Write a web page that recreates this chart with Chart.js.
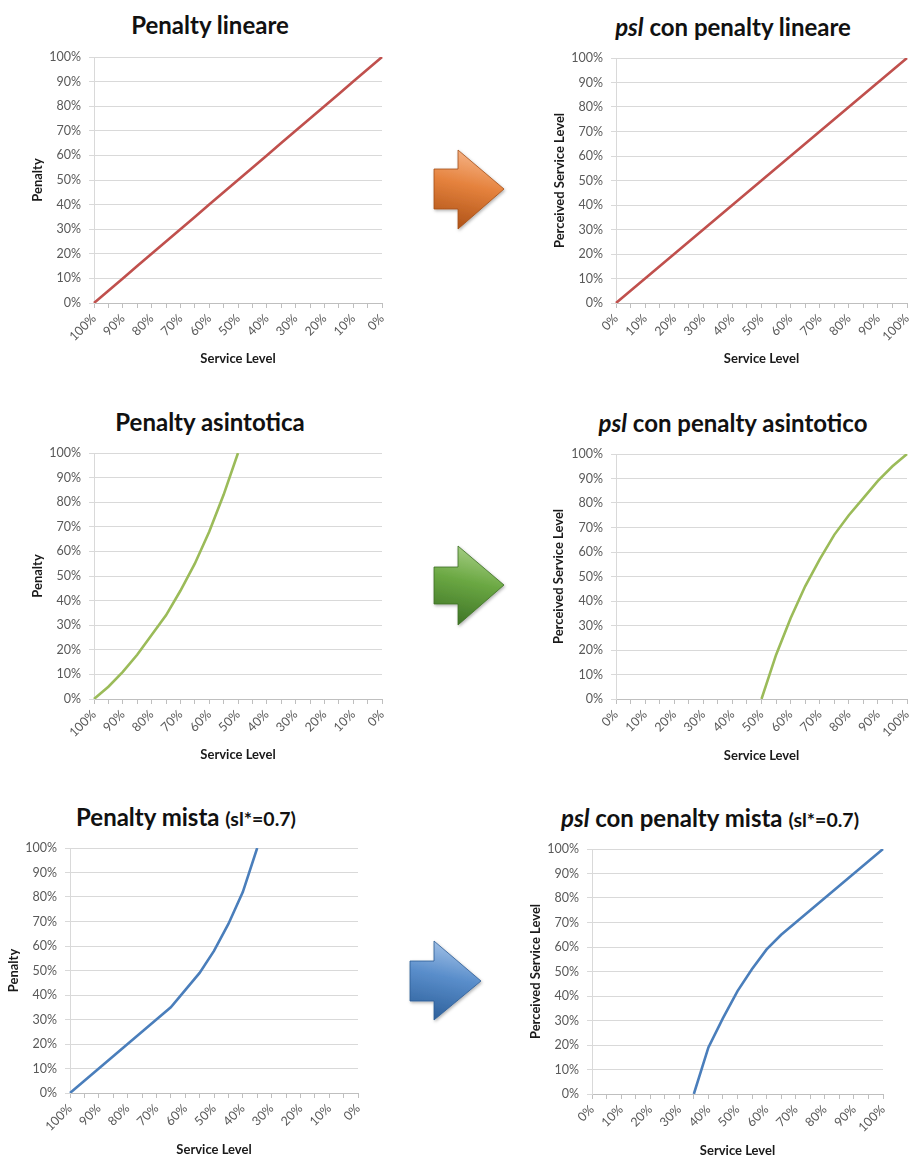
<!DOCTYPE html>
<html>
<head>
<meta charset="utf-8">
<script src="https://cdn.jsdelivr.net/npm/chart.js@4.4.1/dist/chart.umd.min.js"></script>
<style>
  html, body { margin: 0; padding: 0; background: #fff; }
  body { width: 910px; height: 1158px; position: relative; overflow: hidden; font-family: Lato, "Open Sans", sans-serif; }
  canvas { position: absolute; }
  .title { position: absolute; transform: translate(-50%, -50%); white-space: nowrap; font-weight: bold; font-size: 24px; line-height: 1; color: #111; }
  .title .sub { font-size: 19.5px; }
  svg.arrows { position: absolute; left: 0; top: 0; }
</style>
</head>
<body>

<svg class="arrows" width="910" height="1158">
  <defs>
    <linearGradient id="gOrange" x1="0.6" y1="0" x2="0.4" y2="1">
      <stop offset="0" stop-color="#F7B78C"/>
      <stop offset="0.45" stop-color="#E5823D"/>
      <stop offset="1" stop-color="#AF5318"/>
    </linearGradient>
    <linearGradient id="gGreen" x1="0.6" y1="0" x2="0.4" y2="1">
      <stop offset="0" stop-color="#A9D088"/>
      <stop offset="0.45" stop-color="#6BA843"/>
      <stop offset="1" stop-color="#3F7527"/>
    </linearGradient>
    <linearGradient id="gBlue" x1="0.6" y1="0" x2="0.4" y2="1">
      <stop offset="0" stop-color="#A6C4E8"/>
      <stop offset="0.45" stop-color="#5A8ECB"/>
      <stop offset="1" stop-color="#2E619C"/>
    </linearGradient>
    <filter id="shadow" x="-20%" y="-20%" width="140%" height="140%">
      <feDropShadow dx="1" dy="1.5" stdDeviation="1.5" flood-color="#000" flood-opacity="0.3"/>
    </filter>
  </defs>
  <polygon points="434,169 458,169 458,150 504,189 458,229 458,209 434,209" fill="url(#gOrange)" stroke="#A34E17" stroke-width="0.8" filter="url(#shadow)"/>
  <polygon points="434,567 458,567 458,546 504,585 458,625 458,604 434,604" fill="url(#gGreen)" stroke="#3C6F25" stroke-width="0.8" filter="url(#shadow)"/>
  <polygon points="410,961 434,961 434,941 481,981 434,1020 434,1001 410,1001" fill="url(#gBlue)" stroke="#2C5C94" stroke-width="0.8" filter="url(#shadow)"/>
</svg>

<div class="title" style="left:210px; top:25px;">Penalty lineare</div>
<div class="title" style="left:733px; top:27px;"><i>psl</i> con penalty lineare</div>
<div class="title" style="left:210px; top:422px;">Penalty asintotica</div>
<div class="title" style="left:733px; top:423px;"><i>psl</i> con penalty asintotico</div>
<div class="title" style="left:186px; top:817px;">Penalty mista <span class="sub">(sl*=0.7)</span></div>
<div class="title" style="left:710px; top:818px;"><i>psl</i> con penalty mista <span class="sub">(sl*=0.7)</span></div>

<canvas id="c1"></canvas>
<canvas id="c2"></canvas>
<canvas id="c3"></canvas>
<canvas id="c4"></canvas>
<canvas id="c5"></canvas>
<canvas id="c6"></canvas>

<script>
// Service level categories (5% steps)
const serviceLevelDesc = ['100%','95%','90%','85%','80%','75%','70%','65%','60%','55%','50%','45%','40%','35%','30%','25%','20%','15%','10%','5%','0%'];
const serviceLevelAsc  = ['0%','5%','10%','15%','20%','25%','30%','35%','40%','45%','50%','55%','60%','65%','70%','75%','80%','85%','90%','95%','100%'];

// Penalty / perceived service level values (%)
const penaltyLineare    = [0,5,10,15,20,25,30,35,40,45,50,55,60,65,70,75,80,85,90,95,100];
const pslLineare        = [0,5,10,15,20,25,30,35,40,45,50,55,60,65,70,75,80,85,90,95,100];
const penaltyAsintotica = [0,5,11,18,26,34,44,55,68,83,100,null,null,null,null,null,null,null,null,null,null];
const pslAsintotico     = [null,null,null,null,null,null,null,null,null,null,0,18,33,46,57,67,75,82,89,95,100];
const penaltyMista      = [0,5,10,15,20,25,30,35,42,49,58,69,82,100,null,null,null,null,null,null,null];
const pslMista          = [null,null,null,null,null,null,null,0,19,31,42,51,59,65,70,75,80,85,90,95,100];

const yTicks = [0,10,20,30,40,50,60,70,80,90,100];

const RED = '#C0504D', GREEN = '#9BBB59', BLUE = '#4A7EBB';
const FONT = 'Lato';

function panel(id, o) {
  const canvas = document.getElementById(id);
  const cl = Math.max(0, o.yTitleX - 16);
  const ct = o.plot.t - 16;
  const cr = Math.min(910, o.plot.r + 14);
  const cb = o.xTitleY + 12;
  const w = cr - cl, h = cb - ct;
  canvas.width = w; canvas.height = h;
  canvas.style.left = cl + 'px'; canvas.style.top = ct + 'px';
  canvas.style.width = w + 'px'; canvas.style.height = h + 'px';

  const yw = o.plot.l - cl;
  const padTop = o.plot.t - ct;
  const padRight = cr - o.plot.r;
  const xh = cb - o.plot.b;
  const titleSize = 13;
  const lh = titleSize * 1.2;

  new Chart(canvas, {
    type: 'line',
    data: {
      labels: o.labels,
      datasets: [{
        data: o.values,
        borderColor: o.color,
        borderWidth: 2.6,
        pointRadius: 0,
        tension: 0,
        fill: false,
        spanGaps: false
      }]
    },
    options: {
      responsive: false,
      animation: false,
      devicePixelRatio: 1,
      layout: { padding: { top: padTop, right: padRight, left: 0, bottom: 0 } },
      plugins: { legend: { display: false }, tooltip: { enabled: false } },
      scales: {
        x: {
          type: 'category',
          offset: false,
          grid: { drawOnChartArea: false, drawTicks: true, tickLength: 5, color: '#BFBFBF' },
          border: { color: '#BFBFBF', width: 1 },
          ticks: {
            autoSkip: false, minRotation: 45, maxRotation: 45, padding: 3,
            color: '#595959', font: { family: FONT, size: 12.5 },
            callback: (v, i) => (i % 2 === 0 ? o.labels[i] : '')
          },
          title: {
            display: true, text: 'Service Level', color: '#1a1a1a',
            font: { family: FONT, size: titleSize, weight: 'bold' },
            padding: { top: 0, bottom: (cb - o.xTitleY) - lh / 2 }
          },
          afterFit(s) { s.height = xh; s.paddingLeft = 0; s.paddingRight = 0; }
        },
        y: {
          min: 0, max: 100,
          afterBuildTicks(s) { s.ticks = yTicks.map(v => ({ value: v })); },
          grid: { color: '#D9D9D9', tickLength: 5, lineWidth: 1 },
          border: { color: '#D9D9D9', width: 1 },
          ticks: {
            padding: 8, color: '#595959', font: { family: FONT, size: 12.5 },
            callback: v => v + '%'
          },
          title: {
            display: true, text: o.yTitle, color: '#1a1a1a',
            font: { family: FONT, size: titleSize, weight: 'bold' },
            padding: { top: (o.yTitleX - cl) - lh / 2, bottom: 0 }
          },
          afterFit(s) { s.width = yw; s.paddingTop = 0; s.paddingBottom = 0; }
        }
      }
    }
  });
}

panel('c1', { plot: { l: 94, r: 382, t: 57, b: 303 }, yTitleX: 38, xTitleY: 359,
  labels: serviceLevelDesc, values: penaltyLineare, color: RED, yTitle: 'Penalty' });
panel('c2', { plot: { l: 616, r: 907, t: 58, b: 303 }, yTitleX: 560, xTitleY: 359,
  labels: serviceLevelAsc, values: pslLineare, color: RED, yTitle: 'Perceived Service Level' });
panel('c3', { plot: { l: 94, r: 382, t: 453, b: 699 }, yTitleX: 38, xTitleY: 755,
  labels: serviceLevelDesc, values: penaltyAsintotica, color: GREEN, yTitle: 'Penalty' });
panel('c4', { plot: { l: 616, r: 907, t: 454, b: 699 }, yTitleX: 559, xTitleY: 756,
  labels: serviceLevelAsc, values: pslAsintotico, color: GREEN, yTitle: 'Perceived Service Level' });
panel('c5', { plot: { l: 70, r: 358, t: 848, b: 1093 }, yTitleX: 14, xTitleY: 1150,
  labels: serviceLevelDesc, values: penaltyMista, color: BLUE, yTitle: 'Penalty' });
panel('c6', { plot: { l: 592, r: 883, t: 849, b: 1094 }, yTitleX: 536, xTitleY: 1151,
  labels: serviceLevelAsc, values: pslMista, color: BLUE, yTitle: 'Perceived Service Level' });
</script>
</body>
</html>
